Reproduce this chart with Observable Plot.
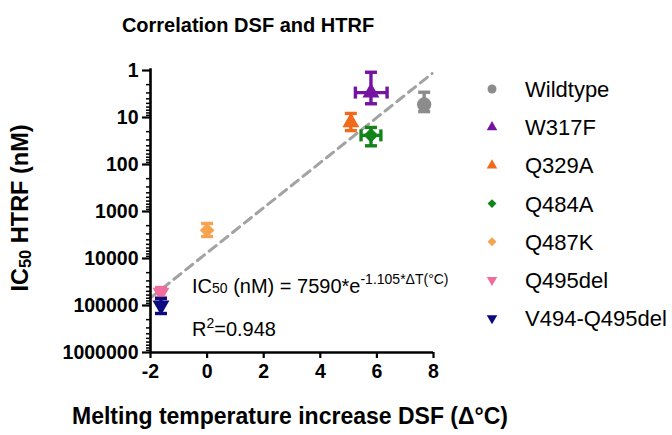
<!DOCTYPE html>
<html>
<head>
<meta charset="utf-8">
<script src="https://cdn.jsdelivr.net/npm/d3@7"></script>
<script src="https://cdn.jsdelivr.net/npm/@observablehq/plot@0.6"></script>
<style>
  body { margin: 0; background: #fff; }
  #chart svg { display: block; font-family: "Liberation Sans", Arial, sans-serif; }
</style>
</head>
<body>
<div id="chart"></div>
<script>
// ---- data ----
const mutants   = ["Wildtype", "W317F", "Q329A", "Q484A", "Q487K", "Q495del", "V494-Q495del"];
const colors    = ["#8c8c8c", "#7414a0", "#f06a1a", "#13841a", "#f7a24e", "#ef6e9e", "#0c0a7e"];
const shapes    = ["circle", "triangle", "triangle", "diamond", "diamond", "triangleDown", "triangleDown"];
const deltaT    = [7.67, 5.79, 5.08, 5.79, 0.0, -1.63, -1.63];
const deltaTLo  = [null, 5.24, null, 5.44, null, null, null];
const deltaTHi  = [null, 6.36, null, 6.14, null, null, null];
const ic50      = [5.3, 2.95, 12.7, 24, 2500, 53000, 100000];
const ic50Lo    = [2.9, 1.09, 8.2, 16.3, 1800, 41500, 71000];
const ic50Hi    = [7.5, 5.1, 19, 40, 3400, 67500, 148000];
const fitDeltaT = [-2, 7.95];
const fitIc50   = [69000, 1.16];
const xTicks    = [-2, 0, 2, 4, 6, 8];
const yTicks    = [1, 10, 100, 1000, 10000, 100000, 1000000];

// ---- symbols ----
const triangleDown = {
  draw(ctx, size) {
    const y = -Math.sqrt(size / (Math.sqrt(3) * 3));
    ctx.moveTo(0, -y * 2);
    ctx.lineTo(-Math.sqrt(3) * y, y);
    ctx.lineTo(Math.sqrt(3) * y, y);
    ctx.closePath();
  }
};
const symbolTypes = {
  circle: d3.symbolCircle,
  triangle: d3.symbolTriangle,
  diamond: d3.symbolDiamond2,
  triangleDown: triangleDown
};
const markerR = {circle: 7.2, triangle: 6.3, diamond: 6.6, triangleDown: 6.3};
const hCap = { draw(ctx) { ctx.moveTo(-6, 0); ctx.lineTo(6, 0); } };
const vCap = { draw(ctx) { ctx.moveTo(0, -6); ctx.lineTo(0, 6); } };

const data = mutants.map((name, i) => ({
  name, color: colors[i], shape: shapes[i],
  x: deltaT[i], xLo: deltaTLo[i], xHi: deltaTHi[i],
  y: ic50[i], yLo: ic50Lo[i], yHi: ic50Hi[i]
}));
const fit = fitDeltaT.map((x, i) => ({x, y: fitIc50[i]}));
const yMinor = [];
yTicks.slice(0, -1).forEach(t => { for (let k = 2; k <= 9; k++) yMinor.push(t * k); });

const font = "'Liberation Sans', Arial, sans-serif";
const marks = [
  Plot.line(fit, {x: "x", y: "y", stroke: "#a2a2a2", strokeWidth: 3, strokeDasharray: "9,6"})
];
data.forEach(d => {
  marks.push(Plot.ruleX([d], {x: "x", y1: "yLo", y2: "yHi", stroke: d.color, strokeWidth: 3.4}));
  marks.push(Plot.dot([d], {x: "x", y: "yLo", symbol: hCap, stroke: d.color, fill: "none", strokeWidth: 3.4}));
  marks.push(Plot.dot([d], {x: "x", y: "yHi", symbol: hCap, stroke: d.color, fill: "none", strokeWidth: 3.4}));
  if (d.xLo != null) {
    marks.push(Plot.ruleY([d], {y: "y", x1: "xLo", x2: "xHi", stroke: d.color, strokeWidth: 3.4}));
    marks.push(Plot.dot([d], {x: "xLo", y: "y", symbol: vCap, stroke: d.color, fill: "none", strokeWidth: 3.4}));
    marks.push(Plot.dot([d], {x: "xHi", y: "y", symbol: vCap, stroke: d.color, fill: "none", strokeWidth: 3.4}));
  }
  marks.push(Plot.dot([d], {x: "x", y: "y", symbol: symbolTypes[d.shape], r: markerR[d.shape], fill: d.color, stroke: "none"}));
});
marks.push(
  Plot.axisY({ticks: yMinor, tickSize: 4, tickFormat: () => "", strokeWidth: 1.5, label: null}),
  Plot.axisY({ticks: yTicks, tickFormat: d => String(d), tickSize: 8, tickPadding: 4,
              fontSize: 19.5, fontWeight: "bold", strokeWidth: 2.2, label: null, fill: "#000"}),
  Plot.axisX({ticks: xTicks, tickFormat: d => String(d), tickSize: 6, tickPadding: 6,
              fontSize: 19.5, fontWeight: "bold", strokeWidth: 2.2, label: null, fill: "#000"}),
  Plot.ruleX([-2], {y1: 0.92, y2: 1000000, stroke: "#000", strokeWidth: 2.6}),
  Plot.ruleY([1000000], {stroke: "#000", strokeWidth: 2.6})
);

const chart = Plot.plot({
  width: 672, height: 435,
  marginLeft: 150, marginRight: 239, marginTop: 70, marginBottom: 83,
  style: {fontFamily: font, background: "#fff", color: "#000", overflow: "visible"},
  x: {domain: [-2, 8]},
  y: {type: "log", domain: [1, 1000000], reverse: true, clamp: false},
  marks
});
document.getElementById("chart").appendChild(chart);

// ---- titles, annotation and legend ----
const svg = d3.select(chart);
const addText = (x, y, size, weight, anchor) => svg.append("text")
  .attr("x", x).attr("y", y).attr("text-anchor", anchor)
  .attr("font-size", size).attr("font-weight", weight)
  .attr("font-family", font).attr("fill", "#000");

addText(248, 32, 20, "bold", "middle").text("Correlation DSF and HTRF");
addText(290, 424, 23, "bold", "middle").text("Melting temperature increase DSF (\u0394\u00B0C)");

const yl = svg.append("text").attr("transform", "translate(28,208) rotate(-90)").attr("text-anchor", "middle")
  .attr("font-size", 23.5).attr("font-weight", "bold").attr("font-family", font).attr("fill", "#000");
yl.append("tspan").text("IC");
yl.append("tspan").attr("font-size", 16.5).attr("dy", 3).text("50");
yl.append("tspan").attr("dy", -3).text(" HTRF (nM)");

const eq = addText(192, 293, 20, "normal", "start");
eq.append("tspan").text("IC");
eq.append("tspan").attr("font-size", 14).text("50");
eq.append("tspan").text(" (nM) = 7590*e");
eq.append("tspan").attr("font-size", 14).attr("dy", -9).text("-1.105*\u0394T(\u00B0C)");

const r2 = addText(192, 336, 20, "normal", "start");
r2.append("tspan").text("R");
r2.append("tspan").attr("font-size", 14).attr("dy", -8).text("2");
r2.append("tspan").attr("dy", 8).text("=0.948");

const legendSize = {circle: 64, triangle: 48, diamond: 50, triangleDown: 48};
data.forEach((d, i) => {
  const y = 89 + i * 38.2;
  svg.append("path").attr("transform", `translate(492,${y})`)
    .attr("d", d3.symbol(symbolTypes[d.shape], legendSize[d.shape])()).attr("fill", d.color);
  addText(525, y, 22, "normal", "start").attr("dy", "0.36em").text(d.name);
});
</script>
</body>
</html>
